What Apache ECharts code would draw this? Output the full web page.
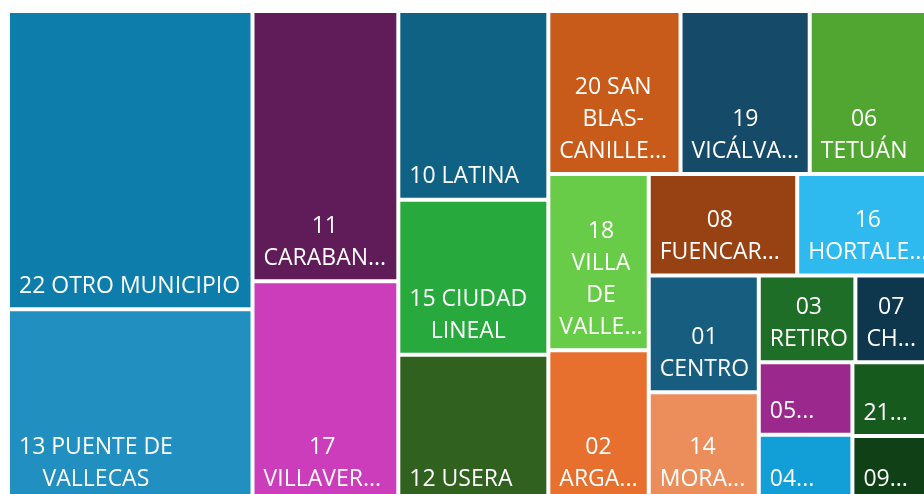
<!DOCTYPE html>
<html>
<head>
<meta charset="utf-8">
<title>Distritos</title>
<script src="https://cdn.jsdelivr.net/npm/echarts@6/dist/echarts.min.js"></script>
<style>
  html, body { margin: 0; padding: 0; background: #fff; }
  #chart { width: 924px; height: 494px; }
</style>
</head>
<body>
<div id="chart"></div>
<script>
// distritos (de mayor a menor)
const districts = [
  '22 OTRO MUNICIPIO', '13 PUENTE DE VALLECAS', '11 CARABANCHEL', '17 VILLAVERDE',
  '10 LATINA', '15 CIUDAD LINEAL', '12 USERA', '20 SAN BLAS-CANILLEJAS',
  '19 VICÁLVARO', '06 TETUÁN', '18 VILLA DE VALLECAS', '02 ARGANZUELA',
  '08 FUENCARRAL-EL PARDO', '16 HORTALEZA', '01 CENTRO', '14 MORATALAZ',
  '03 RETIRO', '07 CHAMBERÍ', '05 SALAMANCA', '04 CHAMARTÍN', '21 BARAJAS', '09 MONCLOA-ARAVACA'
];
const counts = [7293, 4712, 3941, 3218, 2831, 2327, 2208, 2155, 2106, 2075, 1770,
  1523, 1507, 1419, 1285, 1207, 838, 708, 678, 630, 624, 558];

// texto tal como sale en cada celda
const tileText = [
  '22 OTRO MUNICIPIO', '13 PUENTE DE\nVALLECAS', '11\nCARABAN...', '17\nVILLAVER...',
  '10 LATINA', '15 CIUDAD\nLINEAL', '12 USERA', '20 SAN\nBLAS-\nCANILLE...',
  '19\nVICÁLVA...', '06\nTETUÁN', '18\nVILLA\nDE\nVALLE...', '02\nARGA...',
  '08\nFUENCAR...', '16\nHORTALE...', '01\nCENTRO', '14\nMORA...',
  '03\nRETIRO', '07\nCH...', '05...', '04...', '21...', '09...'
];

const colors = [
  '#0D7EAB', '#218FC0', '#601B59', '#CB3DBA', '#0F6283', '#28A93E', '#31611E', '#C85A1A',
  '#154A69', '#51A631', '#68CC48', '#E8702E', '#984214', '#2EBAEE', '#165D80', '#EC8E5C',
  '#1E6E28', '#0E374E', '#9B288C', '#129ED6', '#165A1E', '#104016'
];

const FONT_SIZE = 23;
const measureCtx = document.createElement('canvas').getContext('2d');
measureCtx.font = FONT_SIZE + 'px "Open Sans"';

// ancho del bloque de texto (la linea mas larga)
function blockWidth(text) {
  return Math.max(...text.split('\n').map(l => measureCtx.measureText(l).width));
}

const seriesData = districts.map((name, i) => ({
  name: name,
  value: counts[i],
  itemStyle: { color: colors[i] },
  label: {
    formatter: tileText[i],
    offset: [blockWidth(tileText[i]) / 2 + 4, 0]
  }
}));

const chart = echarts.init(document.getElementById('chart'));

chart.setOption({
  animation: false,
  backgroundColor: '#fff',
  series: [{
    type: 'treemap',
    left: 10,
    top: 13,
    width: 925,
    height: 487,
    squareRatio: 0.87,
    roam: false,
    nodeClick: false,
    breadcrumb: { show: false },
    itemStyle: {
      borderWidth: 0,
      gapWidth: 4
    },
    label: {
      show: true,
      position: 'insideBottomLeft',
      distance: 5,
      align: 'center',
      padding: 0,
      overflow: 'none',
      color: '#fff',
      fontFamily: 'Open Sans',
      fontSize: FONT_SIZE,
      lineHeight: 32
    },
    data: seriesData
  }]
});
</script>
</body>
</html>
